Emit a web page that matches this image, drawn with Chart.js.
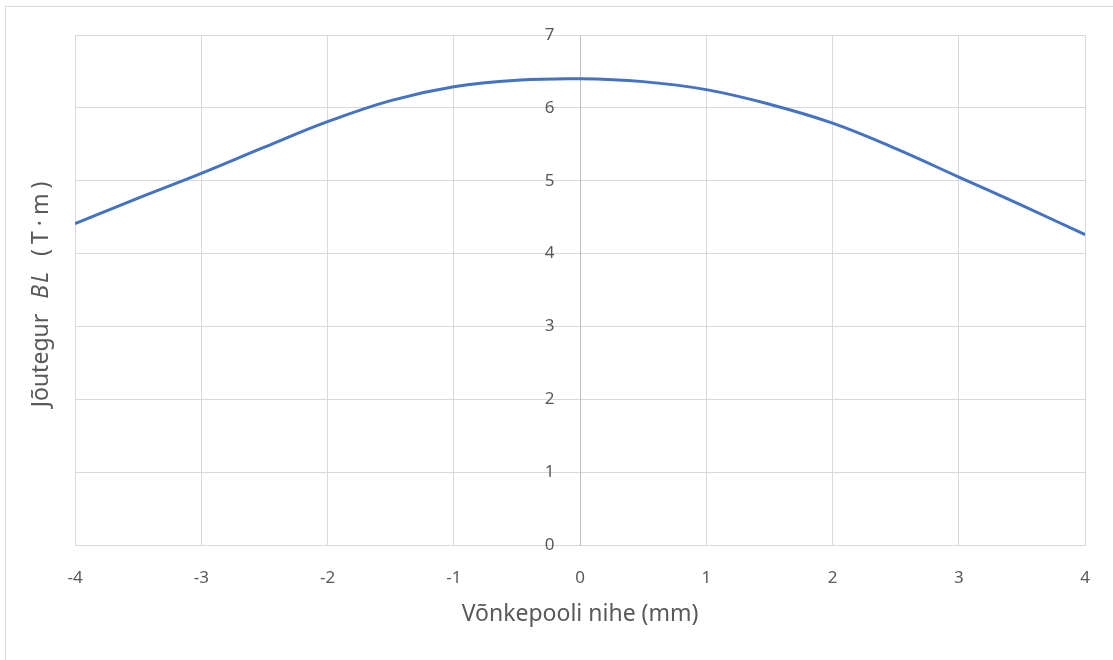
<!DOCTYPE html>
<html>
<head>
<meta charset="utf-8">
<script src="https://cdn.jsdelivr.net/npm/chart.js@4"></script>
<style>
    html, body { margin: 0; padding: 0; background: #fff; overflow: hidden; }
    #wrap { position: relative; width: 1113px; height: 660px; }
    #frame { position: absolute; left: 5px; top: 6px; width: 1200px; height: 800px; border: 1px solid #d9d9d9; box-sizing: border-box; pointer-events: none; }
    #y-title { position: absolute; left: 39px; top: 292px; transform: translate(-50%, -50%) rotate(-90deg); white-space: nowrap; font-family: "Noto Sans", sans-serif; font-size: 23px; color: #595959; }
    #y-title i { margin-left: 15px; letter-spacing: 2px; }
    #y-title .unit { margin-left: 14px; letter-spacing: 5px; }
</style>
</head>
<body>
<div id="wrap">
    <canvas id="chart" width="1113" height="660"></canvas>
    <div id="frame"></div>
    <div id="y-title">Jõutegur<i>BL</i><span class="unit">(T·m)</span></div>
</div>
<script>
// displacement (mm) and force factor BL (T·m)
const displacement = [-4, -3.5, -3, -2.5, -2, -1.5, -1, -0.5, 0, 0.5, 1, 1.5, 2, 2.5, 3, 3.5, 4];
const forceFactor = [4.41, 4.76, 5.10, 5.46, 5.81, 6.10, 6.29, 6.38, 6.40, 6.36, 6.25, 6.05, 5.79, 5.44, 5.05, 4.66, 4.26];

const xTicks = [-4, -3, -2, -1, 0, 1, 2, 3, 4];
const yTicks = [0, 1, 2, 3, 4, 5, 6, 7];

const ctx = document.getElementById('chart').getContext('2d');

new Chart(ctx, {
    type: 'line',
    data: {
        datasets: [{
            data: displacement.map((x, i) => ({ x: x, y: forceFactor[i] })),
            borderColor: '#4472c4',
            borderWidth: 3,
            pointRadius: 0,
            tension: 0.4,
            fill: false
        }]
    },
    options: {
        responsive: false,
        animation: false,
        layout: { padding: { left: 75, right: 26, top: 35, bottom: 0 } },
        plugins: { legend: { display: false }, tooltip: { enabled: false } },
        scales: {
            x: {
                type: 'linear',
                min: xTicks[0],
                max: xTicks[xTicks.length - 1],
                afterBuildTicks: (scale) => { scale.ticks = xTicks.map(v => ({ value: v })); },
                afterFit: (scale) => { scale.height = 115; },
                grid: { color: '#d9d9d9', lineWidth: 1, drawTicks: false },
                border: { color: '#d9d9d9', width: 1 },
                ticks: {
                    padding: 23,
                    color: '#595959',
                    font: { family: 'Noto Sans', size: 17 }
                },
                title: {
                    display: true,
                    text: 'Võnkepooli nihe (mm)',
                    color: '#595959',
                    font: { family: 'Noto Sans', size: 23 },
                    padding: { top: 0, bottom: 32 }
                }
            },
            y: {
                position: { x: 0 },
                min: yTicks[0],
                max: yTicks[yTicks.length - 1],
                afterBuildTicks: (scale) => { scale.ticks = yTicks.map(v => ({ value: v })); },
                grid: { color: '#d9d9d9', lineWidth: 1, drawTicks: false },
                border: { color: '#bfbfbf', width: 1 },
                ticks: {
                    color: '#595959',
                    font: { family: 'Noto Sans', size: 17 },
                    // the label sits flush on a centred axis, so pad it with en spaces
                    callback: (v) => v + '\u2002\u2002\u2002'
                }
            }
        }
    }
});
</script>
</body>
</html>
